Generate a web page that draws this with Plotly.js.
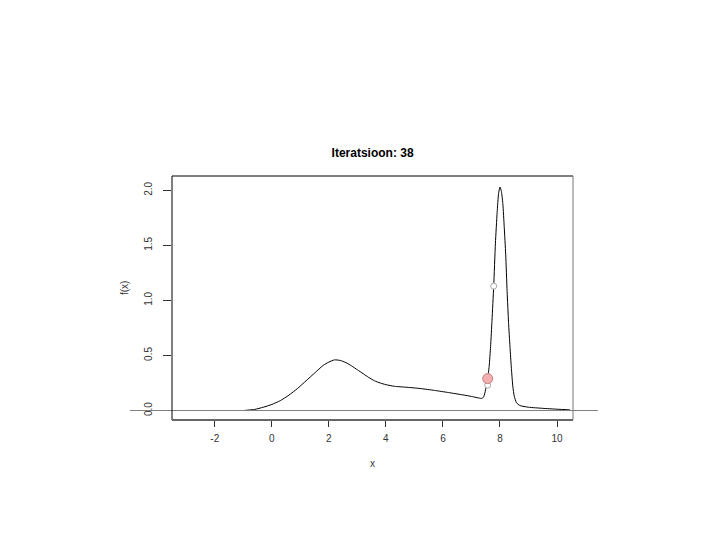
<!DOCTYPE html>
<html>
<head>
<meta charset="utf-8">
<script src="https://cdn.plot.ly/plotly-3.0.1.min.js"></script>
<style>html,body{margin:0;padding:0;background:#fff;}#chart{width:720px;height:540px;}</style>
</head>
<body>
<div id="chart"></div>
<script>
// Density curve
const curveX = [-1.0, -0.6, -0.3, 0.0, 0.3, 0.6, 0.9, 1.2, 1.5, 1.8, 2.0, 2.2, 2.4, 2.6, 2.8, 3.0, 3.2, 3.4, 3.6, 3.8, 4.0, 4.3, 4.7, 5.2, 5.7, 6.2, 6.7, 7.0, 7.2, 7.35, 7.42, 7.47, 7.52, 7.57, 7.62, 7.67, 7.72, 7.78, 7.84, 7.9, 7.95, 8.0, 8.05, 8.1, 8.15, 8.2, 8.25, 8.3, 8.35, 8.4, 8.45, 8.5, 8.58, 8.7, 9.0, 9.5, 10.0, 10.45];
const curveY = [0.0, 0.01, 0.03, 0.055, 0.09, 0.14, 0.2, 0.27, 0.34, 0.41, 0.44, 0.46, 0.455, 0.435, 0.405, 0.37, 0.335, 0.30, 0.27, 0.25, 0.235, 0.22, 0.212, 0.2, 0.183, 0.163, 0.142, 0.128, 0.117, 0.11, 0.12, 0.16, 0.22, 0.29, 0.40, 0.58, 0.82, 1.13, 1.52, 1.80, 1.97, 2.03, 1.99, 1.88, 1.66, 1.42, 1.08, 0.80, 0.58, 0.38, 0.22, 0.13, 0.07, 0.045, 0.03, 0.02, 0.012, 0.006];
// Current point and previous iterates
const currentX = [7.57];
const currentY = [0.29];
const prevX = [7.57, 7.78];
const prevY = [0.23, 1.13];
const xTicks = [-2, 0, 2, 4, 6, 8, 10];
const yTicks = [0.0, 0.5, 1.0, 1.5, 2.0];
const yTickText = ["0.0", "0.5", "1.0", "1.5", "2.0"];

const traces = [
  {x: curveX, y: curveY, type: 'scatter', mode: 'lines', line: {color: '#000', width: 1, shape: 'spline', smoothing: 0.5}, hoverinfo: 'none'},
  {x: prevX, y: prevY, type: 'scatter', mode: 'markers', marker: {size: 6, color: '#fff', line: {color: '#aaaaaa', width: 1}}},
  {x: currentX, y: currentY, type: 'scatter', mode: 'markers', marker: {size: 10, color: '#f4b0b0', line: {color: '#c08080', width: 1}}}
];

const layout = {
  width: 720, height: 540,
  margin: {l: 172, r: 147, t: 176, b: 120},
  paper_bgcolor: '#fff', plot_bgcolor: '#fff',
  showlegend: false,
  font: {family: 'Liberation Sans, Arial, sans-serif', color: '#333', size: 10},
  title: {text: '<b>Iteratsioon: 38</b>', x: 0.5175, xanchor: 'center', y: 1 - 153/540, yanchor: 'middle', yref: 'container', font: {size: 12, color: '#000', family: 'Liberation Sans, Arial, sans-serif'}},
  xaxis: {range: [-3.5, 10.56], tickvals: xTicks, ticktext: xTicks.map(String), ticks: 'outside', ticklen: 6, tickcolor: '#333', ticklabelstandoff: 3, showgrid: false, zeroline: false, showline: false, tickfont: {size: 10, color: '#333'}},
  yaxis: {range: [-0.086, 2.13], tickvals: yTicks, ticktext: yTickText, ticks: 'outside', ticklen: 8, tickcolor: '#333', tickangle: -90, ticklabelstandoff: 7, showgrid: false, zeroline: false, showline: false, tickfont: {size: 10, color: '#333'}},
  shapes: [
    {type: 'line', xref: 'paper', yref: 'y', x0: -0.105, x1: 1.062, y0: 0, y1: 0, line: {color: '#808080', width: 1}},
    {type: 'line', xref: 'paper', yref: 'paper', x0: 0, x1: 1, y0: 1, y1: 1, line: {color: '#000', width: 1}},
    {type: 'line', xref: 'paper', yref: 'paper', x0: 0, x1: 0, y0: 0, y1: 1, line: {color: '#000', width: 1}},
    {type: 'line', xref: 'paper', yref: 'paper', x0: 1, x1: 1, y0: 0, y1: 1, line: {color: '#777', width: 1}},
    {type: 'line', xref: 'paper', yref: 'paper', x0: 0, x1: 1, y0: 0, y1: 0, line: {color: '#666', width: 2}}
  ],
  annotations: [
    {text: 'x', xref: 'paper', yref: 'paper', x: 0.5, y: -(463-420)/244, xanchor: 'center', yanchor: 'middle', showarrow: false, font: {size: 10, color: '#333'}},
    {text: 'f(x)', xref: 'paper', yref: 'paper', x: -(172-124)/401, y: (420-288)/244, xanchor: 'center', yanchor: 'middle', textangle: -90, showarrow: false, font: {size: 10, color: '#333'}}
  ]
};

Plotly.newPlot('chart', traces, layout, {displayModeBar: false, staticPlot: true});
</script>
</body>
</html>
